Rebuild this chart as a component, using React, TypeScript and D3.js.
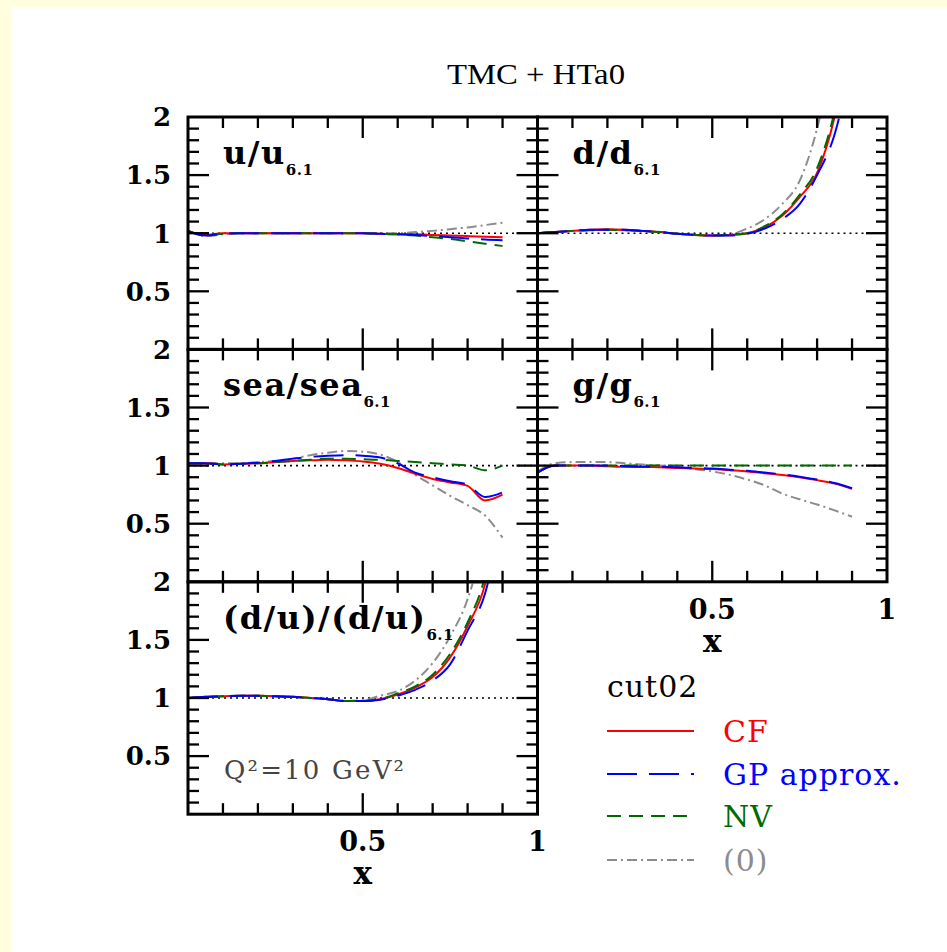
import React from "react";
import * as d3 from "d3";

// x grid where all curves are sampled
const xGrid = [0, 0.05, 0.1, 0.15, 0.2, 0.25, 0.3, 0.35, 0.4, 0.45, 0.5, 0.55, 0.6, 0.65, 0.7, 0.75, 0.8, 0.85, 0.9];

// u/u6.1
const uCF = [1.02, 0.985, 1.0, 1.0, 1.0, 1.0, 1.0, 1.0, 1.0, 1.0, 1.0, 0.995, 0.99, 0.99, 0.985, 0.98, 0.975, 0.97, 0.965];
const uGP = [1.02, 0.98, 0.995, 1.0, 1.0, 1.0, 1.0, 1.0, 1.0, 1.0, 1.0, 0.995, 0.99, 0.985, 0.975, 0.965, 0.955, 0.945, 0.94];
const uNV = [1.02, 0.98, 0.995, 1.0, 1.0, 1.0, 1.0, 1.0, 1.0, 1.0, 1.0, 0.995, 0.99, 0.98, 0.965, 0.95, 0.93, 0.91, 0.89];
const u0 = [1.02, 0.975, 0.99, 1.0, 1.0, 1.0, 1.0, 1.0, 1.0, 1.0, 1.0, 1.0, 1.0, 1.01, 1.02, 1.035, 1.05, 1.07, 1.09];

// d/d6.1
const dCF = [1.0, 1.01, 1.02, 1.03, 1.035, 1.03, 1.02, 1.01, 0.995, 0.985, 0.98, 0.985, 1.0, 1.05, 1.15, 1.31, 1.52, 2.0, 2.8];
const dGP = [1.0, 1.01, 1.02, 1.03, 1.03, 1.03, 1.02, 1.01, 0.995, 0.985, 0.98, 0.98, 0.995, 1.04, 1.12, 1.25, 1.5, 1.85, 2.5];
const dNV = [1.0, 1.01, 1.02, 1.025, 1.03, 1.025, 1.02, 1.01, 0.995, 0.985, 0.98, 0.985, 1.0, 1.06, 1.16, 1.33, 1.56, 2.05, 2.9];
const d0 = [1.0, 1.01, 1.02, 1.025, 1.03, 1.025, 1.02, 1.01, 0.995, 0.985, 0.98, 0.99, 1.04, 1.12, 1.25, 1.45, 1.9, 2.6, 3.5];

// sea/sea6.1
const seaCF = [1.02, 1.02, 1.01, 1.015, 1.02, 1.03, 1.04, 1.045, 1.05, 1.045, 1.035, 1.015, 0.98, 0.93, 0.885, 0.855, 0.825, 0.7, 0.75];
const seaGP = [1.02, 1.02, 1.01, 1.015, 1.025, 1.04, 1.06, 1.075, 1.085, 1.09, 1.085, 1.07, 1.02, 0.94, 0.9, 0.865, 0.835, 0.73, 0.77];
const seaNV = [1.02, 1.02, 1.01, 1.015, 1.02, 1.03, 1.04, 1.05, 1.06, 1.06, 1.055, 1.05, 1.04, 1.03, 1.02, 1.01, 1.0, 0.96, 1.0];
const sea0 = [1.02, 1.02, 1.02, 1.02, 1.03, 1.04, 1.06, 1.09, 1.11, 1.125, 1.12, 1.095, 1.03, 0.92, 0.83, 0.74, 0.66, 0.57, 0.38];

// g/g6.1
const gCF = [0.94, 1.0, 1.0, 1.0, 0.995, 0.99, 0.99, 0.985, 0.98, 0.975, 0.97, 0.96, 0.95, 0.935, 0.92, 0.9, 0.875, 0.845, 0.8];
const gGP = [0.94, 1.0, 1.0, 1.0, 1.0, 0.995, 0.99, 0.99, 0.985, 0.98, 0.975, 0.965, 0.955, 0.94, 0.925, 0.905, 0.88, 0.85, 0.805];
const gNV = [0.94, 1.0, 1.0, 1.0, 1.0, 1.0, 1.0, 1.0, 1.0, 1.0, 1.0, 1.0, 1.0, 1.0, 1.0, 1.0, 1.0, 1.0, 1.0];
const g0 = [0.95, 1.02, 1.03, 1.03, 1.03, 1.02, 1.01, 1.0, 0.985, 0.97, 0.95, 0.92, 0.88, 0.83, 0.76, 0.71, 0.665, 0.615, 0.56];

// (d/u)/(d/u)6.1
const duCF = [1.0, 1.01, 1.015, 1.02, 1.02, 1.015, 1.01, 1.0, 0.99, 0.975, 0.975, 0.99, 1.03, 1.09, 1.18, 1.35, 1.62, 1.98, 2.8];
const duGP = [1.0, 1.01, 1.015, 1.02, 1.02, 1.015, 1.01, 1.0, 0.99, 0.975, 0.975, 0.985, 1.02, 1.07, 1.15, 1.29, 1.58, 1.9, 2.6];
const duNV = [1.0, 1.01, 1.015, 1.02, 1.02, 1.015, 1.01, 1.0, 0.99, 0.975, 0.975, 0.99, 1.04, 1.1, 1.2, 1.38, 1.65, 2.05, 2.9];
const du0 = [1.0, 1.01, 1.015, 1.02, 1.02, 1.015, 1.01, 1.0, 0.99, 0.975, 0.98, 1.02, 1.06, 1.15, 1.3, 1.53, 1.85, 2.4, 3.2];

const seriesNames = ["CF", "GP approx.", "NV", "(0)"];
const seriesColors = ["#ff0000", "#0000ff", "#006a00", "#8c8c8c"];
const seriesDash = ["none", "30 12", "14 8", "10 4 2 4"];

const yTickLabels = ["2", "1.5", "1", "0.5"];
const yTickValues = [2, 1.5, 1, 0.5];
const xTickLabels = ["0.5", "1"];
const xTickValues = [0.5, 1];

const panels = [
  { name: "u/u", row: 0, col: 0, data: [uCF, uGP, uNV, u0] },
  { name: "d/d", row: 0, col: 1, data: [dCF, dGP, dNV, d0] },
  { name: "sea/sea", row: 1, col: 0, data: [seaCF, seaGP, seaNV, sea0] },
  { name: "g/g", row: 1, col: 1, data: [gCF, gGP, gNV, g0], xLabels: true },
  { name: "(d/u)/(d/u)", row: 2, col: 0, data: [duCF, duGP, duNV, du0], xLabels: true },
];

const left = 188;
const top = 117;
const pw = 349.5;
const ph = 232.4;
const serif = "DejaVu Serif";

function Panel({ p }: { p: any }) {
  const x0 = left + p.col * pw;
  const y0 = top + p.row * ph;
  const x = d3.scaleLinear().domain([0, 1]).range([0, pw]);
  const y = d3.scaleLinear().domain([0, 2]).range([ph, 0]);
  const line = d3
    .line<number>()
    .x((d, i) => x(xGrid[i]))
    .y((d) => y(d))
    .curve(d3.curveMonotoneX);
  const clipId = "clip-" + p.row + "-" + p.col;
  const xt = d3.range(1, 10).map((i) => i / 10);
  const yt = d3.range(1, 20).map((i) => i / 10);
  const isMajorX = (v: number) => Math.abs(v - 0.5) < 1e-6;
  const isMajorY = (v: number) => Math.abs(v * 2 - Math.round(v * 2)) < 1e-6;
  const order = [3, 0, 2, 1];

  return (
    <g transform={`translate(${x0},${y0})`}>
      <clipPath id={clipId}>
        <rect x={0} y={0} width={pw} height={ph} />
      </clipPath>
      <line x1={0} x2={pw} y1={y(1)} y2={y(1)} stroke="#000" strokeWidth={1.6} strokeDasharray="2 4" />
      <g clipPath={`url(#${clipId})`}>
        {order.map((k) => (
          <path
            key={k}
            d={line(p.data[k]) || ""}
            fill="none"
            stroke={seriesColors[k]}
            strokeWidth={2}
            strokeDasharray={seriesDash[k]}
          />
        ))}
      </g>
      {/* frame and ticks */}
      <g stroke="#000" strokeWidth={2.3}>
        {xt.map((v) => {
          const len = isMajorX(v) ? 21 : 11;
          return (
            <g key={"xt" + v}>
              <line x1={x(v)} x2={x(v)} y1={0} y2={len} />
              <line x1={x(v)} x2={x(v)} y1={ph} y2={ph - len} />
            </g>
          );
        })}
        {yt.map((v) => {
          const len = isMajorY(v) ? 21 : 11;
          return (
            <g key={"yt" + v}>
              <line x1={0} x2={len} y1={y(v)} y2={y(v)} />
              <line x1={pw} x2={pw - len} y1={y(v)} y2={y(v)} />
            </g>
          );
        })}
      </g>
      <rect x={0} y={0} width={pw} height={ph} fill="none" stroke="#000" strokeWidth={3} />
      <text x={35} y={47} fontFamily={serif} fontWeight="bold" fontSize={32} fill="#000" letterSpacing={1.5}>
        {p.name}
        <tspan fontSize={15} dy={11} letterSpacing={0.5}>6.1</tspan>
      </text>
      {p.col === 0 &&
        yTickValues.map((v, i) => (
          <text
            key={"yl" + i}
            x={-17}
            y={y(v)}
            dy="0.36em"
            textAnchor="end"
            fontFamily={serif}
            fontWeight="bold"
            fontSize={26}
          >
            {yTickLabels[i]}
          </text>
        ))}
      {p.xLabels && (
        <g fontFamily={serif} fontWeight="bold" textAnchor="middle">
          {xTickValues.map((v, i) => (
            <text key={"xl" + i} x={x(v)} y={ph + 37} fontSize={27}>
              {xTickLabels[i]}
            </text>
          ))}
          <text x={x(0.5)} y={ph + 70} fontSize={31}>
            x
          </text>
        </g>
      )}
    </g>
  );
}

export default function App() {
  const legendX = 607;
  const legendRows = [731, 774, 816, 860];
  return (
    <svg
      width={947}
      height={952}
      style={{ position: "absolute", left: 0, top: 0 }}
    >
      <rect x={0} y={0} width={947} height={952} fill="#fff" />
      <rect x={0} y={0} width={947} height={7} fill="#ffffe0" />
      <rect x={0} y={0} width={12} height={952} fill="#ffffe0" />
      <text
        x={536}
        y={84}
        textAnchor="middle"
        fontFamily="Liberation Serif"
        fontSize={30}
        textLength={178}
        lengthAdjust="spacingAndGlyphs"
      >
        TMC + HTa0
      </text>
      {panels.map((p) => (
        <Panel key={p.name} p={p} />
      ))}
      <text x={224} y={779} fontFamily={serif} fontSize={26} fill="#444" letterSpacing={2.2}>
        Q²=10 GeV²
      </text>
      <text x={legendX} y={697} fontFamily={serif} fontSize={30} fill="#000" letterSpacing={1}>
        cut02
      </text>
      {seriesNames.map((n, i) => (
        <g key={n}>
          <line
            x1={legendX}
            x2={legendX + 87}
            y1={legendRows[i]}
            y2={legendRows[i]}
            stroke={seriesColors[i]}
            strokeWidth={1.8}
            strokeDasharray={seriesDash[i]}
          />
          <text
            x={723}
            y={legendRows[i] + 11}
            fontFamily={serif}
            fontSize={30}
            fill={seriesColors[i]}
            letterSpacing={1}
          >
            {n}
          </text>
        </g>
      ))}
    </svg>
  );
}
